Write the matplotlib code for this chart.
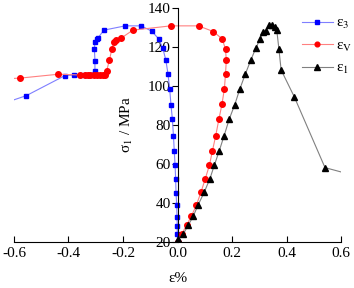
import matplotlib
matplotlib.use("Agg")
import matplotlib.pyplot as plt

plt.rcParams['font.family'] = ['Liberation Serif', 'DejaVu Serif']
plt.rcParams['mathtext.fontset'] = 'stix'

# epsilon_3 (lateral strain)
e3_x = [-0.65, -0.555, -0.413, -0.380, -0.358, -0.339, -0.321, -0.303, -0.303, -0.305,
        -0.303, -0.297, -0.292, -0.270, -0.192, -0.133, -0.094, -0.069, -0.054, -0.043,
        -0.035, -0.029, -0.024, -0.019, -0.015, -0.012, -0.009, -0.007, -0.0055, -0.003,
        -0.002, -0.001, -0.001, 0.0]
e3_y = [90.5, 95.0, 105.3, 105.6, 105.6, 105.6, 105.6, 107.7, 113.0, 118.8,
        122.7, 124.0, 124.6, 128.6, 130.8, 130.8, 128.0, 124.1, 119.3, 113.3,
        106.2, 98.6, 90.3, 83.1, 74.5, 66.7, 59.3, 52.5, 45.3, 38.8,
        33.0, 28.4, 24.1, 20.0]

# epsilon_V (volumetric strain)
ev_x = [-0.65, -0.578, -0.437, -0.358, -0.339, -0.330, -0.321, -0.308, -0.297, -0.286,
        -0.275, -0.266, -0.260, -0.250, -0.241, -0.233, -0.226, -0.208, -0.164, -0.025,
        0.077, 0.131, 0.164, 0.176, 0.179, 0.176, 0.172, 0.163, 0.152, 0.140,
        0.128, 0.117, 0.102, 0.086, 0.069, 0.051, 0.033, 0.015, 0.0]
ev_y = [103.5, 104.0, 106.0, 105.6, 105.6, 105.6, 105.6, 105.6, 105.6, 105.6,
        105.6, 105.8, 107.7, 113.2, 118.8, 122.7, 123.6, 124.4, 128.6, 130.8,
        130.8, 127.9, 124.1, 118.8, 113.2, 106.2, 98.6, 90.6, 83.1, 74.4,
        66.7, 59.3, 52.5, 45.5, 38.8, 33.3, 28.5, 24.0, 20.0]

# epsilon_1 (axial strain)
e1_x = [0.003, 0.021, 0.040, 0.058, 0.075, 0.098, 0.119, 0.135, 0.153, 0.171,
        0.190, 0.210, 0.229, 0.249, 0.269, 0.287, 0.303, 0.313, 0.324, 0.337,
        0.348, 0.358, 0.364, 0.372, 0.380, 0.428, 0.541, 0.65]
e1_y = [21.4, 24.1, 28.7, 33.3, 38.8, 45.5, 52.5, 59.3, 66.7, 74.5,
        83.1, 90.4, 98.6, 106.2, 113.3, 119.3, 124.1, 127.9, 128.2, 131.1,
        131.3, 130.4, 128.7, 118.8, 108.2, 94.5, 58.1, 54.0]

fig = plt.figure(figsize=(3.54, 2.88), dpi=100)
ax = fig.add_axes([0.0395, 0.160, 0.924, 0.8125])

ax.plot(e3_x, e3_y, color='#7f7fff', lw=0.8, marker='s', ms=3.5,
        mfc='#0000ff', mec='#0000ff', label='ε$_3$')
ax.plot(ev_x, ev_y, color='#ff8080', lw=0.8, marker='o', ms=4,
        mfc='#ff0000', mec='#ff0000', label=r'ε$_\mathrm{V}$')
ax.plot(e1_x, e1_y, color='#808080', lw=0.8, marker='^', ms=4.5,
        mfc='#000000', mec='#000000', label='ε$_1$')

ax.set_xlim(-0.6, 0.6)
ax.set_ylim(20, 140)
ax.set_xticks([-0.6, -0.4, -0.2, 0.0, 0.2, 0.4, 0.6])
ax.set_xticklabels(['-0.6', '-0.4', '-0.2', '0.0', '0.2', '0.4', '0.6'])
ax.set_yticks([20, 40, 60, 80, 100, 120, 140])

ax.spines['left'].set_position(('data', 0))
ax.spines['top'].set_visible(False)
ax.spines['right'].set_visible(False)
ax.tick_params(axis='x', direction='in', length=4, labelsize=11, pad=4)
ax.tick_params(axis='y', direction='out', length=4, labelsize=11, pad=1)

ax.set_xlabel('ε%', fontsize=11, labelpad=8)
ax.set_ylabel('σ$_1$ / MPa', fontsize=11)
ax.yaxis.set_label_coords(0.37, 0.5)

leg = ax.legend(loc='upper left', bbox_to_anchor=(0.862, 0.99), frameon=False,
                fontsize=11, handlelength=2.0, handletextpad=0.25, labelspacing=0.5,
                borderaxespad=0, markerscale=0.85)

fig.savefig('out.png', dpi=100)
